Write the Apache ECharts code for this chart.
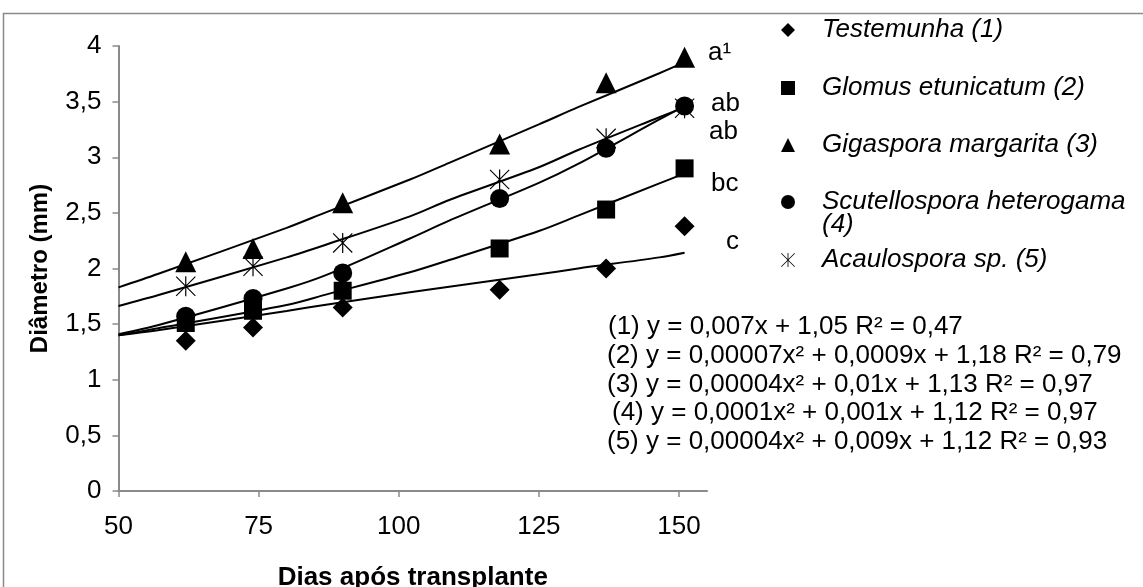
<!DOCTYPE html>
<html>
<head>
<meta charset="utf-8">
<script src="https://cdn.jsdelivr.net/npm/echarts@6/dist/echarts.min.js"></script>
<style>html,body{margin:0;padding:0;background:#fff}#c{width:1143px;height:587px}</style>
</head>
<body>
<div id="c"></div>
<script>
// ---- data ----
const xDays = [62, 74, 90, 118, 137, 151];
const testemunha    = [1.35, 1.47, 1.65, 1.81, 2.00, 2.38];
const glomus        = [1.51, 1.62, 1.80, 2.18, 2.53, 2.90];
const gigaspora     = [2.06, 2.18, 2.59, 3.12, 3.67, 3.90];
const scutellospora = [1.57, 1.73, 1.96, 2.63, 3.08, 3.46];
const acaulospora   = [1.84, 2.02, 2.23, 2.80, 3.17, 3.44];

// trend lines
const trendX      = [50, 57, 80, 87, 102, 109, 125, 132, 146.5, 151];
const trendTest   = [1.40, 1.445, 1.618, 1.675, 1.786, 1.836, 1.948, 2.0, 2.10, 2.142];
const trendGlomus = [1.40, 1.462, 1.672, 1.765, 1.966, 2.076, 2.337, 2.475, 2.765, 2.855];
const trendGig    = [1.83, 1.95, 2.365, 2.505, 2.80, 2.95, 3.295, 3.45, 3.755, 3.855];
const trendScut   = [1.41, 1.49, 1.82, 1.94, 2.27, 2.43, 2.77, 2.94, 3.34, 3.46];
const trendAcaul  = [1.663, 1.759, 2.10, 2.214, 2.469, 2.616, 2.91, 3.065, 3.36, 3.45];

const seriesNames = ['Testemunha (1)', 'Glomus etunicatum (2)', 'Gigaspora margarita (3)', 'Scutellospora heterogama (4)', 'Acaulospora sp. (5)'];
const letters = ['a\u00b9', 'ab', 'ab', 'bc', 'c'];
const equations = [
  '(1) y = 0,007x + 1,05 R\u00b2 = 0,47',
  '(2) y = 0,00007x\u00b2 + 0,0009x + 1,18 R\u00b2 = 0,79',
  '(3) y = 0,00004x\u00b2 + 0,01x + 1,13 R\u00b2 = 0,97',
  '(4) y = 0,0001x\u00b2 + 0,001x + 1,12 R\u00b2 = 0,97',
  '(5) y = 0,00004x\u00b2 + 0,009x + 1,12 R\u00b2 = 0,93'
];
const xTicks = [50, 75, 100, 125, 150];
const xAxisTitle = 'Dias após transplante';
const yAxisTitle = 'Diâmetro (mm)';

// ---- chart ----
const FONT = 'Liberation Sans, Arial, sans-serif';
const FS = 26;
const AXIS_GRAY = '#8a8a8a';
const starPath = 'path://M47,0 L53,0 L53,100 L47,100 Z M4,0 L100,96 L96,100 L0,4 Z M96,0 L100,4 L4,100 L0,96 Z';
const symbols = ['diamond', 'rect', 'triangle', 'circle', starPath];
const sizes = [20, 18, 21, 19, 20];
const values = [testemunha, glomus, gigaspora, scutellospora, acaulospora];
const trends = [trendTest, trendGlomus, trendGig, trendScut, trendAcaul];

const pair = (xs, ys) => xs.map((x, i) => [x, ys[i]]);

const series = [];
trends.forEach((t, i) => {
  series.push({
    type: 'line', name: 'trend' + i, data: pair(trendX, t),
    showSymbol: false, smooth: 0.3, silent: true,
    lineStyle: { color: '#000', width: 2 }, z: 2
  });
});
values.forEach((v, i) => {
  series.push({
    type: 'scatter', name: seriesNames[i], data: pair(xDays, v),
    symbol: symbols[i], symbolSize: sizes[i],
    itemStyle: { color: '#000', opacity: 1 }, z: 3
  });
});

const legendCenters = [25, 83, 140, 197, 255];
const legends = seriesNames.map((n, i) => ({
  data: [{ name: n, icon: symbols[i] }],
  left: 776, top: legendCenters[i] - 13,
  itemWidth: 14, itemHeight: 14,
  selectedMode: false,
  formatter: i === 3 ? () => 'Scutellospora heterogama' : undefined,
  textStyle: { fontFamily: FONT, fontSize: FS, fontStyle: 'italic', color: '#000', padding: [0, 0, 0, 22] }
}));

const letterPos = [[708, 53], [711, 104], [709, 132], [711, 184], [726, 242]];
const eqPos = [[608, 327], [607, 356], [607, 385], [612, 413], [607, 442]];
const graphics = [
  { type: 'rect', shape: { x: 3.5, y: 13.5, width: 1300, height: 700 }, style: { fill: 'none', stroke: AXIS_GRAY, lineWidth: 1.5 }, silent: true },
  { type: 'text', x: 822, y: 225, style: { text: '(4)', font: 'italic ' + FS + 'px ' + FONT, fill: '#000', verticalAlign: 'middle' } }
];
letters.forEach((l, i) => graphics.push({ type: 'text', x: letterPos[i][0], y: letterPos[i][1], style: { text: l, font: FS + 'px ' + FONT, fill: '#000', verticalAlign: 'middle' } }));
equations.forEach((e, i) => graphics.push({ type: 'text', x: eqPos[i][0], y: eqPos[i][1], style: { text: e, font: FS + 'px ' + FONT, fill: '#000', verticalAlign: 'middle' } }));

const chart = echarts.init(document.getElementById('c'), null, { renderer: 'canvas' });
chart.setOption({
  animation: false,
  backgroundColor: '#fff',
  grid: { left: 118.5, right: 436, top: 46, bottom: 96, containLabel: false, outerBoundsMode: 'none' },
  xAxis: {
    type: 'value', min: 50, max: 155, interval: 25,
    name: xAxisTitle, nameLocation: 'middle', nameGap: 74,
    nameTextStyle: { fontFamily: FONT, fontSize: FS, fontWeight: 'bold', color: '#000' },
    axisLine: { lineStyle: { color: AXIS_GRAY, width: 2 } },
    axisTick: { show: true, length: 6, inside: false, lineStyle: { color: AXIS_GRAY, width: 1.5 }, customValues: xTicks },
    axisLabel: { fontFamily: FONT, fontSize: FS, color: '#000', margin: 23, customValues: xTicks },
    splitLine: { show: false }
  },
  yAxis: {
    type: 'value', min: 0, max: 4, interval: 0.5,
    name: yAxisTitle, nameLocation: 'middle', nameGap: 66, nameRotate: 90,
    nameTextStyle: { fontFamily: FONT, fontSize: 24, fontWeight: 'bold', color: '#000' },
    axisLine: { show: true, lineStyle: { color: AXIS_GRAY, width: 2 } },
    axisTick: { show: true, length: 6, inside: false, lineStyle: { color: AXIS_GRAY, width: 1.5 } },
    axisLabel: { fontFamily: FONT, fontSize: FS, color: '#000', margin: 17, formatter: v => String(v).replace('.', ',') },
    splitLine: { show: false }
  },
  legend: legends,
  graphic: graphics,
  series: series
});
</script>
</body>
</html>
